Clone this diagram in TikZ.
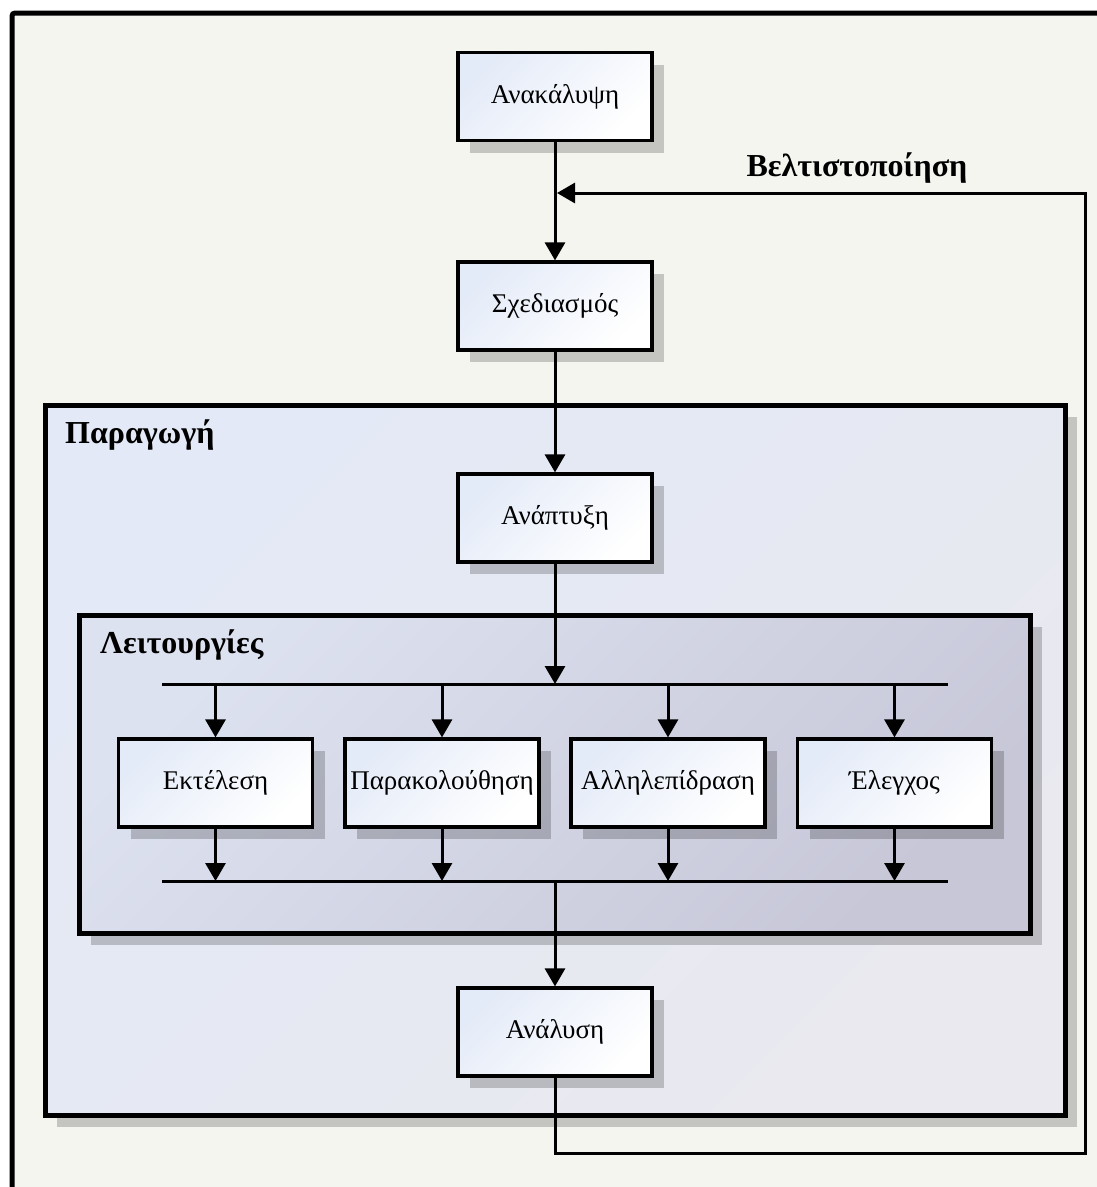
\documentclass[tikz,border=0pt]{standalone}
\usepackage{fontspec}
\setmainfont{Liberation Serif}
\usetikzlibrary{arrows.meta,shadows}

\definecolor{pagebg}{RGB}{245,245,240}
\definecolor{prodA}{RGB}{227,233,246}
\definecolor{prodB}{RGB}{233,233,239}
\definecolor{funcA}{RGB}{221,226,240}
\definecolor{funcB}{RGB}{199,199,216}
\definecolor{boxtint}{RGB}{228,235,248}

\begin{document}
\begin{tikzpicture}[x=1pt,y=-1pt,
  softshadow/.style={drop shadow={shadow xshift=12pt,shadow yshift=-12pt,fill=black,opacity=0.2}},
  stage/.style={draw=black,line width=3.2pt,minimum width=194pt,minimum height=88pt,
    inner sep=0pt,font=\fontsize{27}{31}\selectfont,
    top color=boxtint,bottom color=white,shading angle=45,softshadow},
  frame/.style={draw=black,line width=5pt,inner sep=0pt,softshadow},
  heading/.style={font=\bfseries\fontsize{32}{36}\selectfont,inner sep=0pt},
  wire/.style={line width=3pt,draw=black},
  flow/.style={wire,-{Triangle[length=18pt,width=20pt]}}
]
\useasboundingbox (0,0) rectangle (1097,1187);
\clip (0,0) rectangle (1097,1187);

% outer sheet
\draw[line width=5pt,fill=pagebg,rounded corners=3pt] (12,13) rectangle (1130,1220);

% grouping frames
\node[frame,top color=prodA,bottom color=prodB,shading angle=45,
      minimum width=1020pt,minimum height=710pt] (prod) at (555,760) {};
\node[heading,anchor=base west] (prodlabel) at (65,443) {Παραγωγή};

\node[frame,top color=funcA,bottom color=funcB,shading angle=45,
      minimum width=951pt,minimum height=318pt] (funcs) at (554.5,774) {};
\node[heading,anchor=base west] (funcslabel) at (100,653) {Λειτουργίες};

% stages
\node[stage] (disc) at (555,96.5) {Ανακάλυψη};
\node[stage] (design) at (555,306) {Σχεδιασμός};
\node[stage] (dev) at (555,518) {Ανάπτυξη};
\node[stage] (exec) at (215.5,783) {Εκτέλεση};
\node[stage] (mon) at (442,783) {Παρακολούθηση};
\node[stage] (inter) at (668,783) {Αλληλεπίδραση};
\node[stage] (ctrl) at (894.5,783) {Έλεγχος};
\node[stage] (anal) at (555,1032) {Ανάλυση};

% distribution buses
\coordinate (busTL) at (162,684);
\coordinate (busTR) at (948,684);
\coordinate (busBL) at (162,881);
\coordinate (busBR) at (948,881);
\draw[wire] (busTL) -- (busTR);
\draw[wire] (busBL) -- (busBR);

% main flow
\draw[flow] (disc.south) -- (design.north);
\draw[flow] (design.south) -- (dev.north);
\draw[flow] (dev.south) -- (dev.south |- busTL);
\foreach \n in {exec,mon,inter,ctrl}{
  \draw[flow] (\n.north |- busTL) -- (\n.north);
  \draw[flow] (\n.south) -- (\n.south |- busBL);
}
\draw[flow] (anal.north |- busBL) -- (anal.north);

% optimisation feedback loop
\coordinate (fbcorner) at (1085,1153);
\coordinate (fbjoin) at (557,193);
\draw[flow] (anal.south) |- (fbcorner) |- (fbjoin);
\node[heading,anchor=base] (optlabel) at (857,176) {Βελτιστοποίηση};
\end{tikzpicture}
\end{document}
